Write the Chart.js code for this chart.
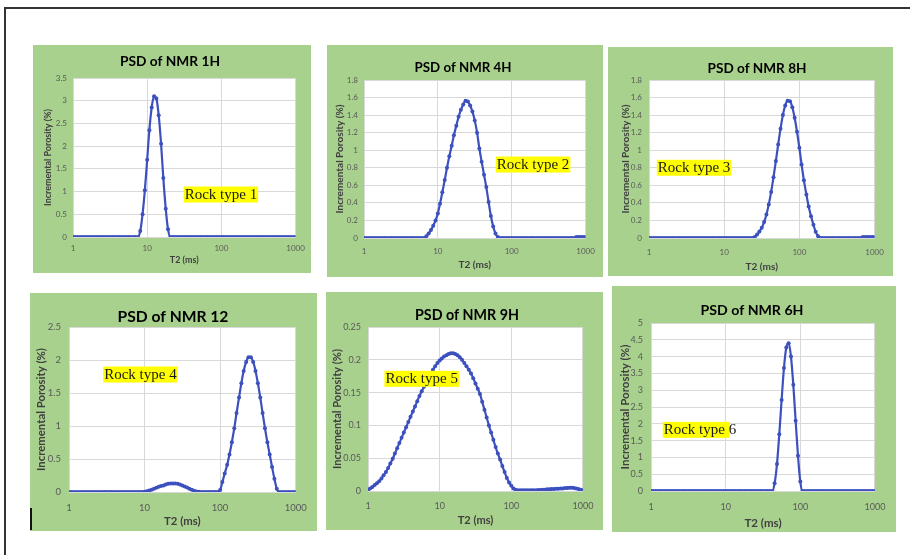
<!DOCTYPE html>
<html><head><meta charset="utf-8">
<script src="https://cdn.jsdelivr.net/npm/chart.js@4.4.1/dist/chart.umd.min.js"></script>
<style>
html,body{margin:0;padding:0;background:#fff;width:910px;height:555px;overflow:hidden;position:relative}
.frame{position:absolute;left:4px;top:7px;width:940px;height:600px;border-left:2px solid #333;border-top:2px solid #333}
canvas{position:absolute}
.mark{position:absolute;left:30px;top:508px;width:2px;height:22px;background:#111}
</style></head><body>
<div class="frame"></div>
<div id="wrap"></div>
<div class="mark"></div>
<script>
// T2 (ms) sample positions
const T2 = [
 1, 1.07, 1.15, 1.24, 1.33, 1.43, 1.54, 1.65, 1.78, 1.91, 2.05, 2.21, 2.37, 2.55, 2.74, 2.94,
 3.16, 3.4, 3.65, 3.92, 4.22, 4.53, 4.87, 5.23, 5.62, 6.04, 6.49, 6.98, 7.5, 8.06, 8.66, 9.31,
 10, 10.7, 11.5, 12.4, 13.3, 14.3, 15.4, 16.5, 17.8, 19.1, 20.5, 22.1, 23.7, 25.5, 27.4, 29.4,
 31.6, 34, 36.5, 39.2, 42.2, 45.3, 48.7, 52.3, 56.2, 60.4, 64.9, 69.8, 75, 80.6, 86.6, 93.1,
 100, 107, 115, 124, 133, 143, 154, 165, 178, 191, 205, 221, 237, 255, 274, 294,
 316, 340, 365, 392, 422, 453, 487, 523, 562, 604, 649, 698, 750, 806, 866, 931,
 1000];
const xTicks = [1, 10, 100, 1000];

const titles = ['PSD of NMR 1H', 'PSD of NMR 4H', 'PSD of NMR 8H', 'PSD of NMR 12', 'PSD of NMR 9H', 'PSD of NMR 6H'];

const psd1H = [
 0,0,0,0,0,0,0,0,0,0,0,0,0,0,0,0,
 0,0,0,0,0,0,0,0,0,0,0,0,0,0.13,0.5,1.03,
 1.7,2.35,2.85,3.1,3.05,2.68,2.05,1.3,0.62,0.17,0,0,0,0,0,0,
 0,0,0,0,0,0,0,0,0,0,0,0,0,0,0,0,
 0,0,0,0,0,0,0,0,0,0,0,0,0,0,0,0,
 0,0,0,0,0,0,0,0,0,0,0,0,0,0,0,0,
 0];
const psd4H = [
 0,0,0,0,0,0,0,0,0,0,0,0,0,0,0,0,
 0,0,0,0,0,0,0,0,0,0,0,0.02,0.05,0.09,0.14,0.2,
 0.28,0.39,0.52,0.66,0.8,0.93,1.05,1.17,1.28,1.38,1.46,1.52,1.565,1.555,1.51,1.44,
 1.34,1.2,1.02,0.87,0.72,0.58,0.41,0.25,0.13,0.05,0.01,0,0,0,0,0,
 0,0,0,0,0,0,0,0,0,0,0,0,0,0,0,0,
 0,0,0,0,0,0,0,0,0,0,0,0,0.01,0.01,0.01,0.01,
 0.01];
const psd8H = [
 0,0,0,0,0,0,0,0,0,0,0,0,0,0,0,0,
 0,0,0,0,0,0,0,0,0,0,0,0,0,0,0,0,
 0,0,0,0,0,0,0,0,0,0,0,0,0,0.01,0.04,0.073,
 0.117,0.181,0.268,0.383,0.525,0.692,0.876,1.066,1.246,1.4,1.51,1.565,1.559,1.49,1.37,1.21,
 1.028,0.838,0.657,0.495,0.358,0.249,0.15,0.07,0.02,0,0,0,0,0,0,0,
 0,0,0,0,0,0,0,0,0,0,0,0.01,0.01,0.01,0.01,0.01,
 0.01];
const psd12 = [
 0,0,0,0,0,0,0,0,0,0,0,0,0,0,0,0,
 0,0,0,0,0,0,0,0,0,0,0,0,0,0,0,0,
 0.005,0.012,0.022,0.035,0.05,0.064,0.078,0.09,0.1,0.115,0.125,0.13,0.13,0.13,0.125,0.115,
 0.1,0.085,0.068,0.05,0.033,0.019,0.008,0.002,0,0,0,0,0,0,0,0,
 0.03,0.15,0.28,0.411,0.567,0.754,0.967,1.197,1.43,1.649,1.834,1.97,2.04,2.04,1.97,1.834,
 1.649,1.43,1.197,0.967,0.754,0.567,0.38,0.2,0.05,0,0,0,0,0,0,0,
 0];
const psd9H = [
 0.002,0.004,0.006,0.009,0.012,0.015,0.019,0.024,0.029,0.035,0.042,0.049,0.057,0.065,0.073,0.081,
 0.089,0.097,0.105,0.113,0.121,0.129,0.137,0.145,0.152,0.159,0.166,0.173,0.179,0.185,0.19,0.195,
 0.199,0.202,0.205,0.207,0.209,0.21,0.21,0.209,0.207,0.204,0.2,0.195,0.19,0.185,0.179,0.172,
 0.164,0.156,0.148,0.136,0.124,0.112,0.1,0.089,0.078,0.067,0.057,0.048,0.038,0.029,0.02,0.013,
 0.008,0.004,0.002,0.001,0.001,0.001,0.001,0.001,0.001,0.001,0.001,0.001,0.0015,0.0015,0.002,0.002,
 0.0025,0.0025,0.003,0.003,0.0035,0.0035,0.004,0.004,0.0045,0.0045,0.005,0.005,0.0045,0.004,0.003,0.002,
 0.001];
const psd6H = [
 0,0,0,0,0,0,0,0,0,0,0,0,0,0,0,0,
 0,0,0,0,0,0,0,0,0,0,0,0,0,0,0,0,
 0,0,0,0,0,0,0,0,0,0,0,0,0,0,0,0,
 0,0,0,0,0,0.23,0.8,1.69,2.71,3.66,4.27,4.4,4.0,3.16,2.09,1.05,
 0.28,0,0,0,0,0,0,0,0,0,0,0,0,0,0,0,
 0,0,0,0,0,0,0,0,0,0,0,0,0,0,0,0,
 0];
const series = [psd1H, psd4H, psd8H, psd12, psd9H, psd6H];

const yMax = [3.5, 1.8, 1.8, 2.5, 0.25, 5];
const yStep = [0.5, 0.2, 0.2, 0.5, 0.05, 0.5];

const rockLabels = ['Rock type 1', 'Rock type 2', 'Rock type 3', 'Rock type 4', 'Rock type 5', 'Rock type 6'];
const labelT2 = [32, 63, 1.31, 2.92, 1.75, 1.48];
const labelVal = [0.935, 0.837, 0.80, 1.78, 0.171, 1.82];

// panel geometry (page pixels)
const panels = [
 {box:[33,45,278,228], plot:[73,78,300,237], yTitleX:48, xTickY:248, xTitleY:260, tickPad:6, titleX:170, titleY:62, tick:8, titleW:100, yTitleW:97, hl:11},
 {box:[327,45,276,232], plot:[364,80,590,238], yTitleX:340, xTickY:251, xTitleY:265, tickPad:6, titleX:463, titleY:68, tick:8, titleW:97, yTitleW:109, hl:11},
 {box:[608,47,285,229], plot:[649,80,877,238], yTitleX:626, xTickY:252, xTitleY:267, tickPad:7, titleX:757, titleY:69, tick:8, titleW:99, yTitleW:109, hl:11},
 {box:[30,293,287,238], plot:[69,327,301,492], yTitleX:41, xTickY:508, xTitleY:521, tickPad:8, titleX:173, titleY:317, tick:9.5, titleW:111, yTitleW:123, hl:11},
 {box:[326,292,277,238], plot:[368,327,590,491], yTitleX:337, xTickY:506, xTitleY:520, tickPad:7, titleX:467, titleY:315, tick:9, titleW:104, yTitleW:120, hl:11},
 {box:[612,286,284,246], plot:[651,323,879,491], yTitleX:625, xTickY:507, xTitleY:523, tickPad:8, titleX:752, titleY:310, tick:9, titleW:103, yTitleW:125, hl:10}
];

const BLUE = '#3C50BE';
const GREEN = '#A9D18E';
const FONT = 'Lato';
const SERIF = 'Liberation Serif';
const mctx = document.createElement('canvas').getContext('2d');
function fitSize(text, weight, family, target) {
  mctx.font = weight + ' 20px ' + family;
  return 20 * target / mctx.measureText(text).width;
}

const wrap = document.getElementById('wrap');
panels.forEach((p, k) => {
  const [bx, by, bw, bh] = p.box;
  const [L, T, R, B] = p.plot;
  const cv = document.createElement('canvas');
  cv.width = bw; cv.height = bh;
  cv.style.left = bx + 'px'; cv.style.top = by + 'px';
  cv.style.width = bw + 'px'; cv.style.height = bh + 'px';
  wrap.appendChild(cv);

  const axFs = fitSize('Incremental Porosity (%)', 'bold', FONT, p.yTitleW);
  const axLH = axFs * 1.2;
  const pl = (p.yTitleX - bx) - axLH / 2;
  const yW = (L - bx) - pl;
  const pt = T - by;
  const pr = bx + bw - R;
  const xBottom = (p.xTitleY - by) + axLH / 2;
  const pb = bh - xBottom;
  const xH = xBottom - (B - by);
  const tickLH = p.tick * 1.2;
  const xTickPad = (p.xTickY - B) - tickLH / 2;
  const titleFs = fitSize(titles[k], 'bold', FONT, p.titleW);
  const labFs = 15;

  const vals = series[k];
  new Chart(cv, {
    type: 'line',
    data: {
      datasets: [{
        data: T2.map((t, i) => ({x: t, y: vals[i]})),
        borderColor: BLUE, backgroundColor: BLUE, borderWidth: 2.2,
        pointRadius: 2, pointBackgroundColor: BLUE, pointBorderWidth: 0,
        tension: 0.2, cubicInterpolationMode: 'monotone'
      }]
    },
    options: {
      responsive: false, animation: false, devicePixelRatio: 1,
      layout: {padding: {left: pl, right: pr, top: pt, bottom: pb}},
      plugins: {legend: {display: false}, tooltip: {enabled: false}, title: {display: false}},
      scales: {
        x: {
          type: 'logarithmic', min: 1, max: 1000,
          afterBuildTicks: s => { s.ticks = xTicks.map(v => ({value: v})); },
          afterFit: s => { s.height = xH; },
          ticks: {callback: v => String(v), color: '#595959', font: {family: FONT, size: p.tick, lineHeight: 1.2},
                  padding: xTickPad, maxRotation: 0, autoSkip: false},
          grid: {color: '#D9D9D9', drawTicks: false},
          border: {display: false},
          title: {display: true, text: 'T2 (ms)', color: '#404040',
                  font: {family: FONT, size: axFs, weight: 'bold', lineHeight: 1.2}, padding: 0}
        },
        y: {
          min: 0, max: yMax[k],
          afterFit: s => { s.width = yW; },
          ticks: {stepSize: yStep[k], callback: v => String(+(+v).toFixed(3)), color: '#595959',
                  font: {family: FONT, size: p.tick, lineHeight: 1.2}, padding: p.tickPad},
          grid: {color: '#D9D9D9', drawTicks: false},
          border: {display: false},
          title: {display: true, text: 'Incremental Porosity (%)', color: '#404040',
                  font: {family: FONT, size: axFs, weight: 'bold', lineHeight: 1.2}, padding: 0}
        }
      }
    },
    plugins: [{
      id: 'deco',
      beforeDraw(c) {
        const {ctx, chartArea: a} = c;
        ctx.save();
        ctx.fillStyle = GREEN; ctx.fillRect(0, 0, c.width, c.height);
        ctx.fillStyle = '#fff'; ctx.fillRect(a.left, a.top, a.right - a.left, a.bottom - a.top);
        ctx.restore();
      },
      afterDatasetsDraw(c) {
        const ctx = c.ctx;
        const px = c.scales.x.getPixelForValue(labelT2[k]);
        const py = c.scales.y.getPixelForValue(labelVal[k]);
        ctx.save();
        ctx.font = labFs + 'px "' + SERIF + '"';
        const txt = rockLabels[k];
        const hw = ctx.measureText(txt.slice(0, p.hl)).width;
        ctx.fillStyle = '#FFFF00';
        ctx.fillRect(px - 1, py - 8, hw + 2, 16);
        ctx.fillStyle = '#1a1a1a';
        ctx.textBaseline = 'middle'; ctx.textAlign = 'left';
        ctx.fillText(txt, px, py + 0.5);
        ctx.restore();
      },
      afterDraw(c) {
        const ctx = c.ctx;
        ctx.save();
        ctx.font = 'bold ' + titleFs + 'px ' + FONT;
        ctx.fillStyle = '#000';
        ctx.textAlign = 'center'; ctx.textBaseline = 'middle';
        ctx.fillText(titles[k], p.titleX - bx, p.titleY - by);
        ctx.restore();
      }
    }]
  });
});
</script>
</body></html>
